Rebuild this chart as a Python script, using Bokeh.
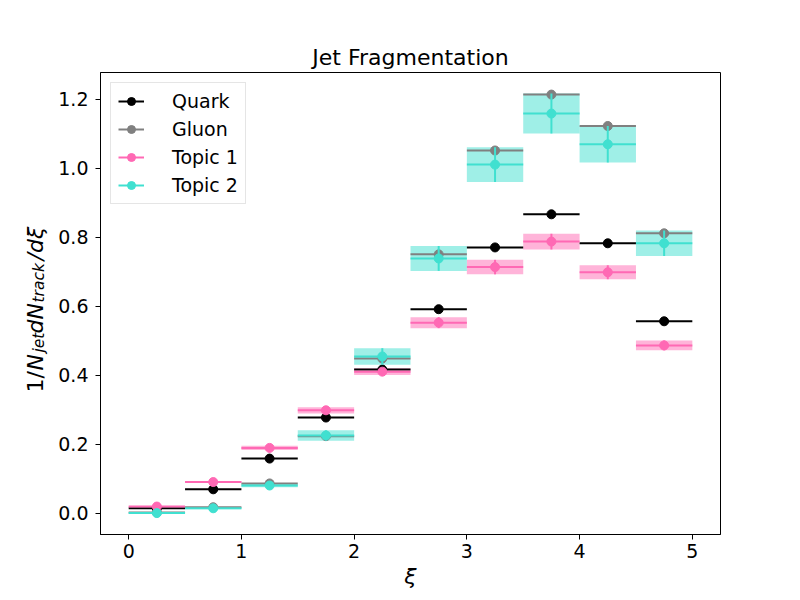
import math
from bokeh.plotting import figure
from bokeh.layouts import row
from bokeh.core.properties import value
from bokeh.models import (ColumnDataSource, FixedTicker, PrintfTickFormatter,
                          Legend, LegendItem, Range1d)
from bokeh.embed import file_html
from bokeh.resources import INLINE

# ---- data ----
bin_lo = [0.0, 0.5, 1.0, 1.5, 2.0, 2.5, 3.0, 3.5, 4.0, 4.5]
bin_hi = [0.5, 1.0, 1.5, 2.0, 2.5, 3.0, 3.5, 4.0, 4.5, 5.0]
xi_centers = [0.25, 0.75, 1.25, 1.75, 2.25, 2.75, 3.25, 3.75, 4.25, 4.75]
quark = [0.015, 0.070, 0.159, 0.278, 0.417, 0.592, 0.771, 0.867, 0.783, 0.557]
gluon = [0.003, 0.018, 0.087, 0.224, 0.449, 0.751, 1.052, 1.214, 1.123, 0.812]
topic1 = [0.020, 0.091, 0.190, 0.299, 0.411, 0.553, 0.714, 0.788, 0.699, 0.487]
topic1_err = [0.001, 0.003, 0.006, 0.009, 0.010, 0.016, 0.021, 0.023, 0.020, 0.014]
topic2 = [0.001, 0.015, 0.081, 0.226, 0.455, 0.739, 1.011, 1.159, 1.070, 0.783]
topic2_err = [0.001, 0.003, 0.005, 0.015, 0.024, 0.036, 0.050, 0.058, 0.053, 0.037]
x_ticks = [0, 1, 2, 3, 4, 5]
y_ticks = [0.0, 0.2, 0.4, 0.6, 0.8, 1.0, 1.2]

title_text = "Jet Fragmentation"
x_label = "ξ"
series_names = ["Quark", "Gluon", "Topic 1", "Topic 2"]
series_colors = ["black", "gray", "hotpink", "turquoise"]

FONT = "DejaVu Sans"

# ---- main plot ----
p = figure(width=750, height=600, output_backend="svg", toolbar_location=None,
           x_range=Range1d(-0.25, 5.25), y_range=Range1d(-0.061, 1.278),
           min_border_left=50, min_border_right=80, min_border_top=72, min_border_bottom=66)
p.background_fill_color = "white"
p.border_fill_color = "white"
p.outline_line_color = "black"
p.outline_line_width = 1
p.xgrid.grid_line_color = None
p.ygrid.grid_line_color = None

p.title.text = title_text
p.title.align = "center"
p.title.text_font = FONT
p.title.text_font_size = "22px"
p.title.text_font_style = "normal"
p.title.text_color = "black"
p.title.standoff = 5

for ax in (p.xaxis, p.yaxis):
    ax.major_tick_out = 5
    ax.major_tick_in = 0
    ax.minor_tick_line_color = None
    ax.major_label_text_font = FONT
    ax.major_label_text_font_size = "19px"
    ax.major_label_text_color = "black"
    ax.axis_line_color = "black"
    ax.major_tick_line_color = "black"
p.xaxis.ticker = FixedTicker(ticks=x_ticks)
p.yaxis.ticker = FixedTicker(ticks=y_ticks)
p.xaxis.major_label_standoff = 4
p.yaxis.major_label_standoff = 7
p.yaxis.formatter = PrintfTickFormatter(format="%.1f")
p.xaxis.formatter = PrintfTickFormatter(format="%d")

p.xaxis.axis_label = x_label
p.xaxis.axis_label_text_font = FONT
p.xaxis.axis_label_text_font_size = "22px"
p.xaxis.axis_label_text_font_style = "italic"
p.xaxis.axis_label_text_color = "black"
p.xaxis.axis_label_standoff = 3

# uncertainty boxes for topics (drawn beneath everything)
for vals, errs, col in ((topic1, topic1_err, series_colors[2]), (topic2, topic2_err, series_colors[3])):
    src = ColumnDataSource(dict(left=bin_lo, right=bin_hi,
                                bottom=[v - e for v, e in zip(vals, errs)],
                                top=[v + e for v, e in zip(vals, errs)]))
    p.quad(left="left", right="right", bottom="bottom", top="top", source=src,
           fill_color=col, fill_alpha=0.5, line_color=None)

items = []
all_series = [(quark, None), (gluon, None), (topic1, topic1_err), (topic2, topic2_err)]
for (vals, errs), name, col in zip(all_series, series_names, series_colors):
    hsrc = ColumnDataSource(dict(x0=bin_lo, x1=bin_hi, y=vals))
    hr = p.segment(x0="x0", x1="x1", y0="y", y1="y", source=hsrc, line_color=col, line_width=2)
    rs = [hr]
    if errs is not None:
        vsrc = ColumnDataSource(dict(x=xi_centers,
                                     y0=[v - e for v, e in zip(vals, errs)],
                                     y1=[v + e for v, e in zip(vals, errs)]))
        p.segment(x0="x", x1="x", y0="y0", y1="y1", source=vsrc, line_color=col, line_width=2)
    psrc = ColumnDataSource(dict(x=xi_centers, y=vals))
    sr = p.scatter(x="x", y="y", source=psrc, size=9, marker="circle",
                   fill_color=col, line_color=col)
    rs.append(sr)
    items.append(LegendItem(label=name, renderers=rs))

legend = Legend(items=items, location="top_left")
legend.margin = 10
legend.padding = 7
legend.spacing = 6
legend.glyph_width = 26
legend.glyph_height = 20
legend.label_standoff = 28
legend.label_text_font = FONT
legend.label_text_font_size = "19px"
legend.label_text_color = "black"
legend.border_line_color = "#cccccc"
legend.border_line_width = 1
legend.background_fill_color = "white"
legend.background_fill_alpha = 0.8
p.add_layout(legend)

# ---- y axis label panel: 1/N_jet dN_track/dξ with subscripts ----
# the row aligns this panel's frame with the main frame (page y 72..534);
# its ranges are chosen so that 1 unit = 1 px (x from the left, y = 600 - page y)
lab = figure(width=50, height=600, output_backend="svg", toolbar_location=None,
             title_location=None,
             x_range=Range1d(0, 50), y_range=Range1d(66, 528),
             x_axis_location=None, y_axis_location=None,
             min_border_left=0, min_border_right=0, min_border_top=0, min_border_bottom=0)
lab.outline_line_color = None
lab.xgrid.grid_line_color = None
lab.ygrid.grid_line_color = None
lab.background_fill_color = "white"
lab.border_fill_color = "white"

ylabel_parts = [
    ("1/", 208, 34.5, "22px", "normal"),
    ("N", 230, 34.5, "22px", "italic"),
    ("jet", 248, 38.5, "15.5px", "italic"),
    ("dN", 267, 34.5, "22px", "italic"),
    ("track", 298, 38.5, "15.5px", "italic"),
    ("/dξ", 340, 34.5, "22px", "italic"),
]
for txt, ypos, xpos, fs, st in ylabel_parts:
    lab.text(x=[xpos], y=[ypos], text=[txt], angle=math.pi / 2,
             text_align="left", text_baseline="alphabetic",
             text_font=value(FONT), text_font_size=value(fs), text_font_style=st,
             text_color="black")

layout = row(lab, p)
open("out.html", "w").write(file_html(layout, INLINE))
